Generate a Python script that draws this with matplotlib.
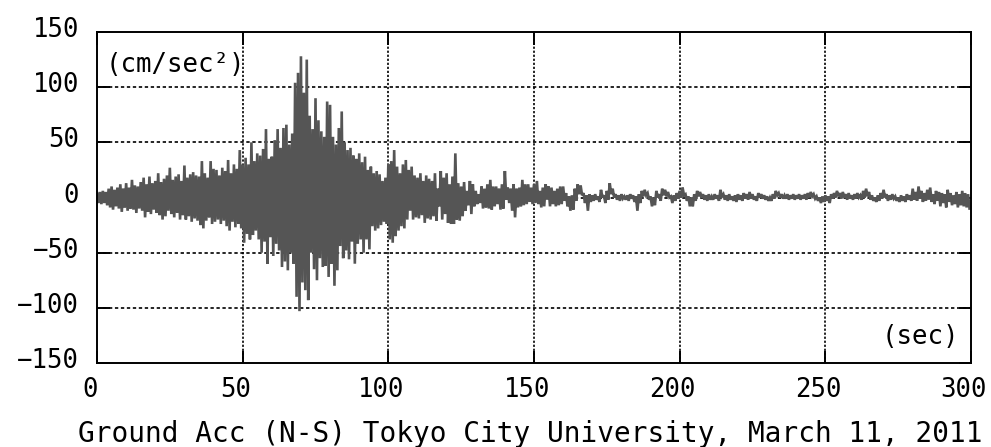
import numpy as np
import matplotlib
matplotlib.use("Agg")
import matplotlib.pyplot as plt
from matplotlib.transforms import ScaledTranslation

# Peak ground acceleration per second (cm/sec^2): positive and negative envelope
time_s = list(range(300))
upper = [
    4, 5, 6, 5, 8, 10, 7, 9, 12, 8,
    13, 9, 16, 11, 10, 14, 18, 12, 19, 13,
    15, 22, 14, 17, 20, 27, 16, 19, 21, 15,
    29, 18, 21, 23, 20, 19, 33, 22, 18, 33,
    26, 25, 20, 27, 24, 34, 22, 30, 26, 43,
    30, 36, 30, 50, 33, 40, 38, 44, 62, 35,
    37, 52, 62, 45, 63, 66, 48, 58, 104, 113,
    128, 95, 125, 74, 62, 90, 70, 60, 55, 87,
    84, 55, 48, 63, 78, 50, 43, 45, 38, 35,
    40, 32, 37, 25, 28, 22, 24, 21, 15, 18,
    30, 33, 43, 28, 22, 30, 34, 25, 28, 20,
    18, 22, 15, 20, 17, 15, 22, 8, 24, 18,
    22, 12, 19, 40, 13, 10, 14, 6, 15, 12,
    6, 3, 10, 8, 12, 16, 10, 10, 8, 12,
    24, 9, 8, 12, 8, 9, 16, 12, 12, 9,
    12, 15, 6, 9, 12, 10, 9, 6, 8, 10,
    10, 4, 1, 2, 8, 12, 11, 4, 2, 3,
    2, 3, 1, 7, 2, 6, 13, 8, 3, 2,
    3, 1, 2, 3, 2, 1, 3, 6, 7, 4,
    1, 0, 6, 3, 8, 7, 5, 1, 2, 4,
    6, 9, 3, 1, 0, 3, 6, 5, 3, 2,
    3, 1, 3, 2, 7, 3, 2, 3, 1, 2,
    3, 2, 4, 3, 5, 3, 1, 4, 3, 2,
    1, 0, 3, 6, 4, 3, 2, 3, 2, 3,
    2, 3, 2, 3, 4, 5, 3, 1, 0, 1,
    2, 1, 3, 4, 6, 4, 5, 3, 4, 2,
    3, 4, 2, 6, 8, 5, 2, 0, 2, 4,
    7, 3, 2, 3, 1, 0, 2, 1, 3, 2,
    8, 5, 10, 6, 4, 7, 9, 3, 6, 5,
    4, 3, 7, 4, 2, 5, 3, 6, 4, 3,
]
lower = [
    -5, -6, -5, -7, -9, -11, -8, -10, -13, -9,
    -12, -10, -11, -14, -10, -12, -18, -13, -15, -11,
    -14, -16, -20, -17, -12, -15, -18, -14, -20, -16,
    -20, -17, -22, -19, -21, -25, -28, -21, -18, -24,
    -22, -20, -24, -21, -26, -30, -22, -27, -24, -28,
    -41, -33, -38, -34, -30, -38, -50, -40, -60, -36,
    -53, -42, -48, -63, -58, -66, -50, -60, -90, -103,
    -77, -84, -93, -50, -65, -75, -55, -63, -62, -72,
    -60, -80, -66, -44, -55, -48, -56, -40, -60, -42,
    -38, -50, -38, -47, -26, -30, -28, -25, -22, -24,
    -38, -41, -35, -30, -26, -28, -20, -12, -20, -18,
    -19, -16, -23, -19, -20, -17, -21, -8, -20, -15,
    -23, -24, -24, -20, -21, -17, -12, -7, -15, -8,
    -6, -5, -10, -9, -10, -11, -8, -6, -11, -10,
    -2, -5, -12, -18, -9, -8, -7, -6, -4, -6,
    -5, -6, -9, -8, -2, -8, -6, -8, -7, -6,
    -3, -8, -12, -11, -3, 3, 2, -5, -12, -4,
    -3, -2, -4, 0, -5, -2, 3, 0, -2, -3,
    -1, -2, -3, -1, -4, -12, -5, 1, 2, -2,
    -8, -7, 0, -3, 2, 1, 0, -5, -3, -1,
    0, 2, -3, -8, -8, -3, 1, 0, -2, -3,
    -2, -2, -1, -3, 1, -2, -3, -2, -3, -4,
    -2, -3, -1, -2, -1, -2, -3, 0, -1, -2,
    -3, -3, -1, 2, 0, -1, -1, -2, -1, -2,
    -1, -2, -1, -2, 0, 1, -1, -3, -5, -4,
    -3, -5, -1, 0, 1, -1, 0, -2, -1, -2,
    -1, 0, -2, 0, 1, -2, -3, -4, -3, -1,
    0, -3, -2, -1, -3, -4, -3, -4, -2, -3,
    -2, -3, -1, -4, -3, -2, -4, -6, -3, -8,
    -5, -9, -4, -7, -6, -9, -7, -8, -9, -10,
]
x_ticks = [0, 50, 100, 150, 200, 250, 300]
y_ticks = [-150, -100, -50, 0, 50, 100, 150]
title = "Ground Acc (N-S) Tokyo City University, March 11, 2011"
unit_label = "(cm/sec²)"
time_label = "(sec)"

plt.rcParams["font.family"] = ["DejaVu Sans Mono", "DejaVu Sans"]
plt.rcParams["lines.scale_dashes"] = False

fig = plt.figure(figsize=(9.91, 4.47), dpi=100)
ax = fig.add_axes([0.0979, 0.1879, 0.8819, 0.7405])

# Alternate positive/negative peaks within each second to form the trace
t = np.asarray(time_s, dtype=float)
xs = np.column_stack([t, t + 0.5]).ravel()
ys = np.column_stack([upper, lower]).ravel()
ax.plot(xs, ys, color="#555555", lw=1.9, zorder=2, solid_joinstyle="miter")

ax.set_xlim(0, 300)
ax.set_ylim(-150, 150)
ax.set_xticks(x_ticks)
ax.set_yticks(y_ticks)

# Dashed horizontal and dotted vertical grid
for yv in y_ticks[1:-1]:
    ax.axhline(yv, color="black", lw=1.2, ls=(0, (2.4, 1.9)), zorder=1)
for xv in x_ticks[1:-1]:
    ax.axvline(xv, color="black", lw=1.2, ls=(0, (1.6, 1.3)), zorder=1)

for sp in ax.spines.values():
    sp.set_linewidth(1.4)
    sp.set_color("black")

ax.tick_params(axis="both", which="major", direction="in", top=True, right=True,
               length=9, width=1.4, labelsize=18.5, colors="black")
ax.tick_params(axis="y", pad=13)
ax.tick_params(axis="x", pad=10)

for lab in ax.get_xticklabels():
    lab.set_transform(lab.get_transform() + ScaledTranslation(-0.07, 0, fig.dpi_scale_trans))
for lab in ax.get_yticklabels():
    lab.set_transform(lab.get_transform() + ScaledTranslation(0, 0.05, fig.dpi_scale_trans))

ax.text(0.0103, 0.900, unit_label, transform=ax.transAxes, ha="left", va="center",
        fontsize=18.5, color="black", zorder=3)
ax.text(0.987, 0.080, time_label, transform=ax.transAxes, ha="right", va="center",
        fontsize=18.5, color="black", zorder=3)

fig.text(0.5353, 0.0112, title, ha="center", va="baseline", fontsize=20, color="black")

fig.savefig("out.png", dpi=100)
